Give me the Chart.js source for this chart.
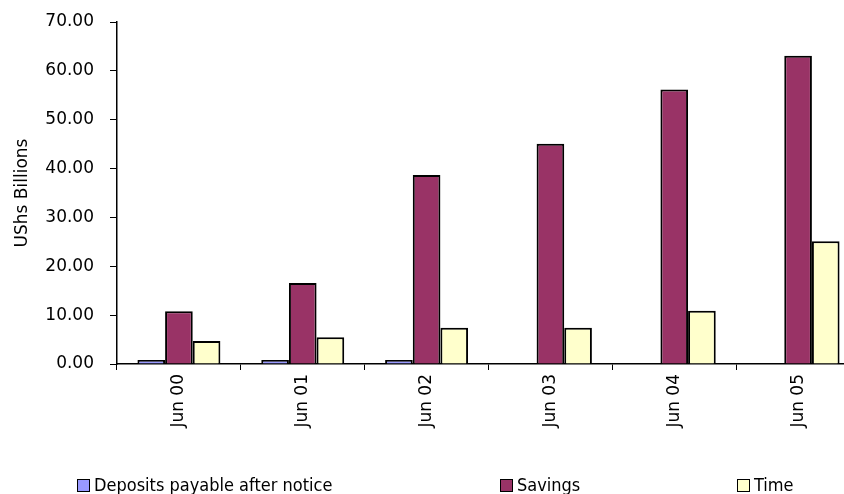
<!DOCTYPE html>
<html>
<head>
<meta charset="utf-8">
<script src="https://cdn.jsdelivr.net/npm/chart.js@4"></script>
<style>
  html, body { margin: 0; padding: 0; background: #fff; overflow: hidden; }
  #wrap { position: relative; width: 860px; height: 494px; }
  .leg { position: absolute; top: 474px; font-family: "DejaVu Sans"; font-stretch: condensed; font-size: 18px; color: #000; white-space: nowrap; }
  .leg span { display: inline-block; width: 11px; height: 11px; border: 1px solid #000; margin-right: 4px; vertical-align: -1px; }
</style>
</head>
<body>
<div id="wrap">
  <canvas id="myChart" width="860" height="494"></canvas>
  <div class="leg" style="left:77px"><span style="background:#9999FF"></span>Deposits payable after notice</div>
  <div class="leg" style="left:500px"><span style="background:#993366"></span>Savings</div>
  <div class="leg" style="left:737px"><span style="background:#FFFFCC"></span>Time</div>
</div>
<script>
let labels = ["Jun 00", "Jun 01", "Jun 02", "Jun 03", "Jun 04", "Jun 05"]
let deposits = [0.8, 0.8, 0.8, null, null, null]
let savings = [10.8, 16.6, 38.7, 45.1, 56.2, 63.1]
let time = [4.7, 5.5, 7.4, 7.4, 10.9, 25.1]

let font = {family: "DejaVu Sans", size: 17}

new Chart("myChart", {
    type: "bar",
    data: {
        labels: labels,
        datasets: [{
            label: "Deposits payable after notice",
            data: deposits,
            backgroundColor: "#9999FF",
            borderColor: "#000",
            borderWidth: 2
        }, {
            label: "Savings",
            data: savings,
            backgroundColor: "#993366",
            borderColor: "#000",
            borderWidth: 2
        }, {
            label: "Time",
            data: time,
            backgroundColor: "#FFFFCC",
            borderColor: "#000",
            borderWidth: 2
        }]
    },
    options: {
        responsive: false,
        animation: false,
        categoryPercentage: 0.67,
        barPercentage: 1,
        layout: {padding: {top: 22, bottom: 40, left: 0, right: 0}},
        plugins: {legend: {display: false}, tooltip: {enabled: false}},
        scales: {
            x: {
                grid: {display: true, drawOnChartArea: false, drawTicks: true, tickLength: 6, color: "#000", offset: true},
                border: {color: "#000", width: 1.5},
                ticks: {minRotation: 90, maxRotation: 90, color: "#000", font: font, padding: 4},
                afterFit: s => { s.height = 90 }
            },
            y: {
                min: 0,
                max: 70,
                grid: {display: true, drawOnChartArea: false, drawTicks: true, tickLength: 7, color: "#000"},
                border: {color: "#000", width: 1.5},
                ticks: {stepSize: 10, color: "#000", font: font, padding: 16, callback: v => v.toFixed(2)},
                title: {display: true, text: "UShs Billions", color: "#000", font: {family: "DejaVu Sans", size: 17}, padding: {top: 12, bottom: 0}},
                afterFit: s => { s.width = 117; s.paddingTop = 0; s.paddingBottom = 0 }
            }
        }
    }
});
</script>
</body>
</html>
